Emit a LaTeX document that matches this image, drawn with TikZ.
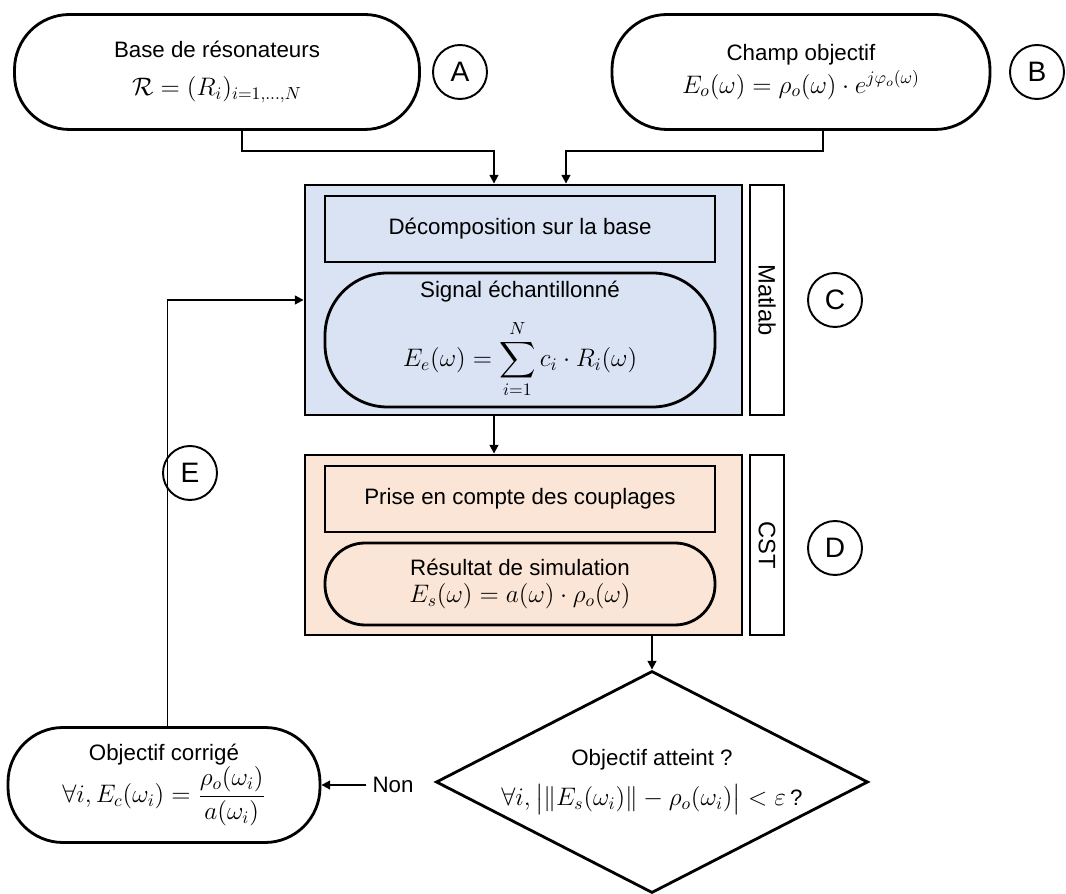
\documentclass[tikz,border=0pt]{standalone}
\usepackage{fontspec}
\setmainfont{Liberation Sans}
\usepackage{amsmath}
\usetikzlibrary{arrows.meta, positioning, shapes.geometric}
\definecolor{matlabblue}{RGB}{218,227,243}
\definecolor{cstorange}{RGB}{251,229,214}
\newcommand{\fml}[1]{{\fontsize{14}{17}\selectfont$#1$}}
\tikzset{
  term/.style={draw=black, line width=1.6pt, rounded corners=1.1cm, fill=white,
               align=center, inner sep=0pt, font=\fontsize{12.7}{15}\selectfont},
  proc/.style={draw=black, line width=1.6pt, fill=none, align=center, inner sep=0pt,
               minimum width=7.8cm, minimum height=1.32cm,
               font=\fontsize{12.7}{15}\selectfont},
  grp/.style={draw=black, line width=1.6pt, inner sep=0pt, minimum width=8.74cm},
  toolbox/.style={draw=black, line width=1.6pt, fill=white, inner sep=0pt,
                  minimum width=0.68cm},
  tooltxt/.style={rotate=-90, font=\fontsize{13.5}{15}\selectfont},
  tag/.style={circle, draw=black, line width=1.1pt, minimum size=1.08cm, inner sep=0pt,
              font=\fontsize{16}{16}\selectfont},
  arrow/.style={-{Triangle[length=5pt, width=5pt]}, line width=1.1pt, black},
}

\begin{document}
\begin{tikzpicture}
\useasboundingbox (0,0) rectangle (21.32,-17.88);

% --- Inputs ---
\node[term, minimum width=8.1cm, minimum height=2.3cm] (resA) at (4.34, -1.44)
    {Base de résonateurs\\[7pt] \fml{\mathcal{R}=(R_i)_{i=1,\dots,N}}};
\node[tag] (tagA) at (9.2, -1.44) {A};

\node[term, minimum width=7.56cm, minimum height=2.3cm] (champ) at (16.02, -1.44)
    {Champ objectif\\[2pt] \fml{E_o(\omega)=\rho_o(\omega)\cdot e^{j\varphi_o(\omega)}}};
\node[tag] (tagB) at (20.74, -1.44) {B};

% --- Matlab group ---
\node[grp, fill=matlabblue, minimum height=4.6cm] (blue) at (10.47, -6.0) {};
\node[proc] (decomp) at (10.4, -4.58) {Décomposition sur la base};
\node[term, rounded corners=1.25cm, minimum width=7.8cm, minimum height=2.68cm,
      fill=none] (signal) at (10.4, -6.8)
    {Signal échantillonné\\[9pt] \fml{\displaystyle E_e(\omega)=\sum_{i=1}^{N} c_i\cdot R_i(\omega)}};
\node[toolbox, minimum height=4.6cm] (matlab) at (15.34, -6.0) {};
\node[tooltxt] (matlabtxt) at (matlab) {Matlab};
\node[tag] (tagC) at (16.7, -6.0) {C};

% --- CST group ---
\node[grp, fill=cstorange, minimum height=3.6cm] (orange) at (10.47, -10.9) {};
\node[proc] (prise) at (10.4, -9.98) {Prise en compte des couplages};
\node[term, rounded corners=0.8cm, minimum width=7.8cm, minimum height=1.64cm,
      fill=none] (result) at (10.4, -11.68)
    {Résultat de simulation\\ \fml{E_s(\omega)=a(\omega)\cdot\rho_o(\omega)}};
\node[toolbox, minimum height=3.6cm] (cst) at (15.34, -10.9) {};
\node[tooltxt] (csttxt) at (cst) {CST};
\node[tag] (tagD) at (16.7, -10.96) {D};

% --- Test and correction ---
\node[diamond, aspect=2, draw=black, line width=1.6pt, minimum width=8.48cm,
      minimum height=4.44cm, inner sep=0pt, align=center,
      font=\fontsize{12.7}{15}\selectfont] (check) at (13.04, -15.64)
    {Objectif atteint ?\\[8pt]
     \fml{\forall i,\bigl|\|E_s(\omega_i)\|-\rho_o(\omega_i)\bigr|<\varepsilon\,}?};

\node[term, minimum width=6.24cm, minimum height=2.3cm] (corr) at (3.28, -15.7)
    {Objectif corrigé\\ \fml{\forall i, E_c(\omega_i)=\dfrac{\rho_o(\omega_i)}{a(\omega_i)}}};
\node[font=\fontsize{12.7}{15}\selectfont] (non) at (7.86, -15.7) {Non};
\node[tag] (tagE) at (3.8, -9.46) {E};

% --- Connectors ---
\draw[arrow] ([xshift=0.5cm]resA.south) -- ++(0, -0.4) -| ([xshift=-0.59cm]blue.north);
\draw[arrow] ([xshift=0.44cm]champ.south) -- ++(0, -0.4) -| ([xshift=0.85cm]blue.north);
\draw[arrow] ([xshift=-0.59cm]blue.south) -- ([xshift=-0.59cm]orange.north);
\draw[arrow] (orange.south -| check.north) -- (check.north);
\draw[arrow] (non.west) -- (corr.east);
\draw[arrow] ([xshift=2pt]corr.north) |- (blue.west);

\end{tikzpicture}
\end{document}
